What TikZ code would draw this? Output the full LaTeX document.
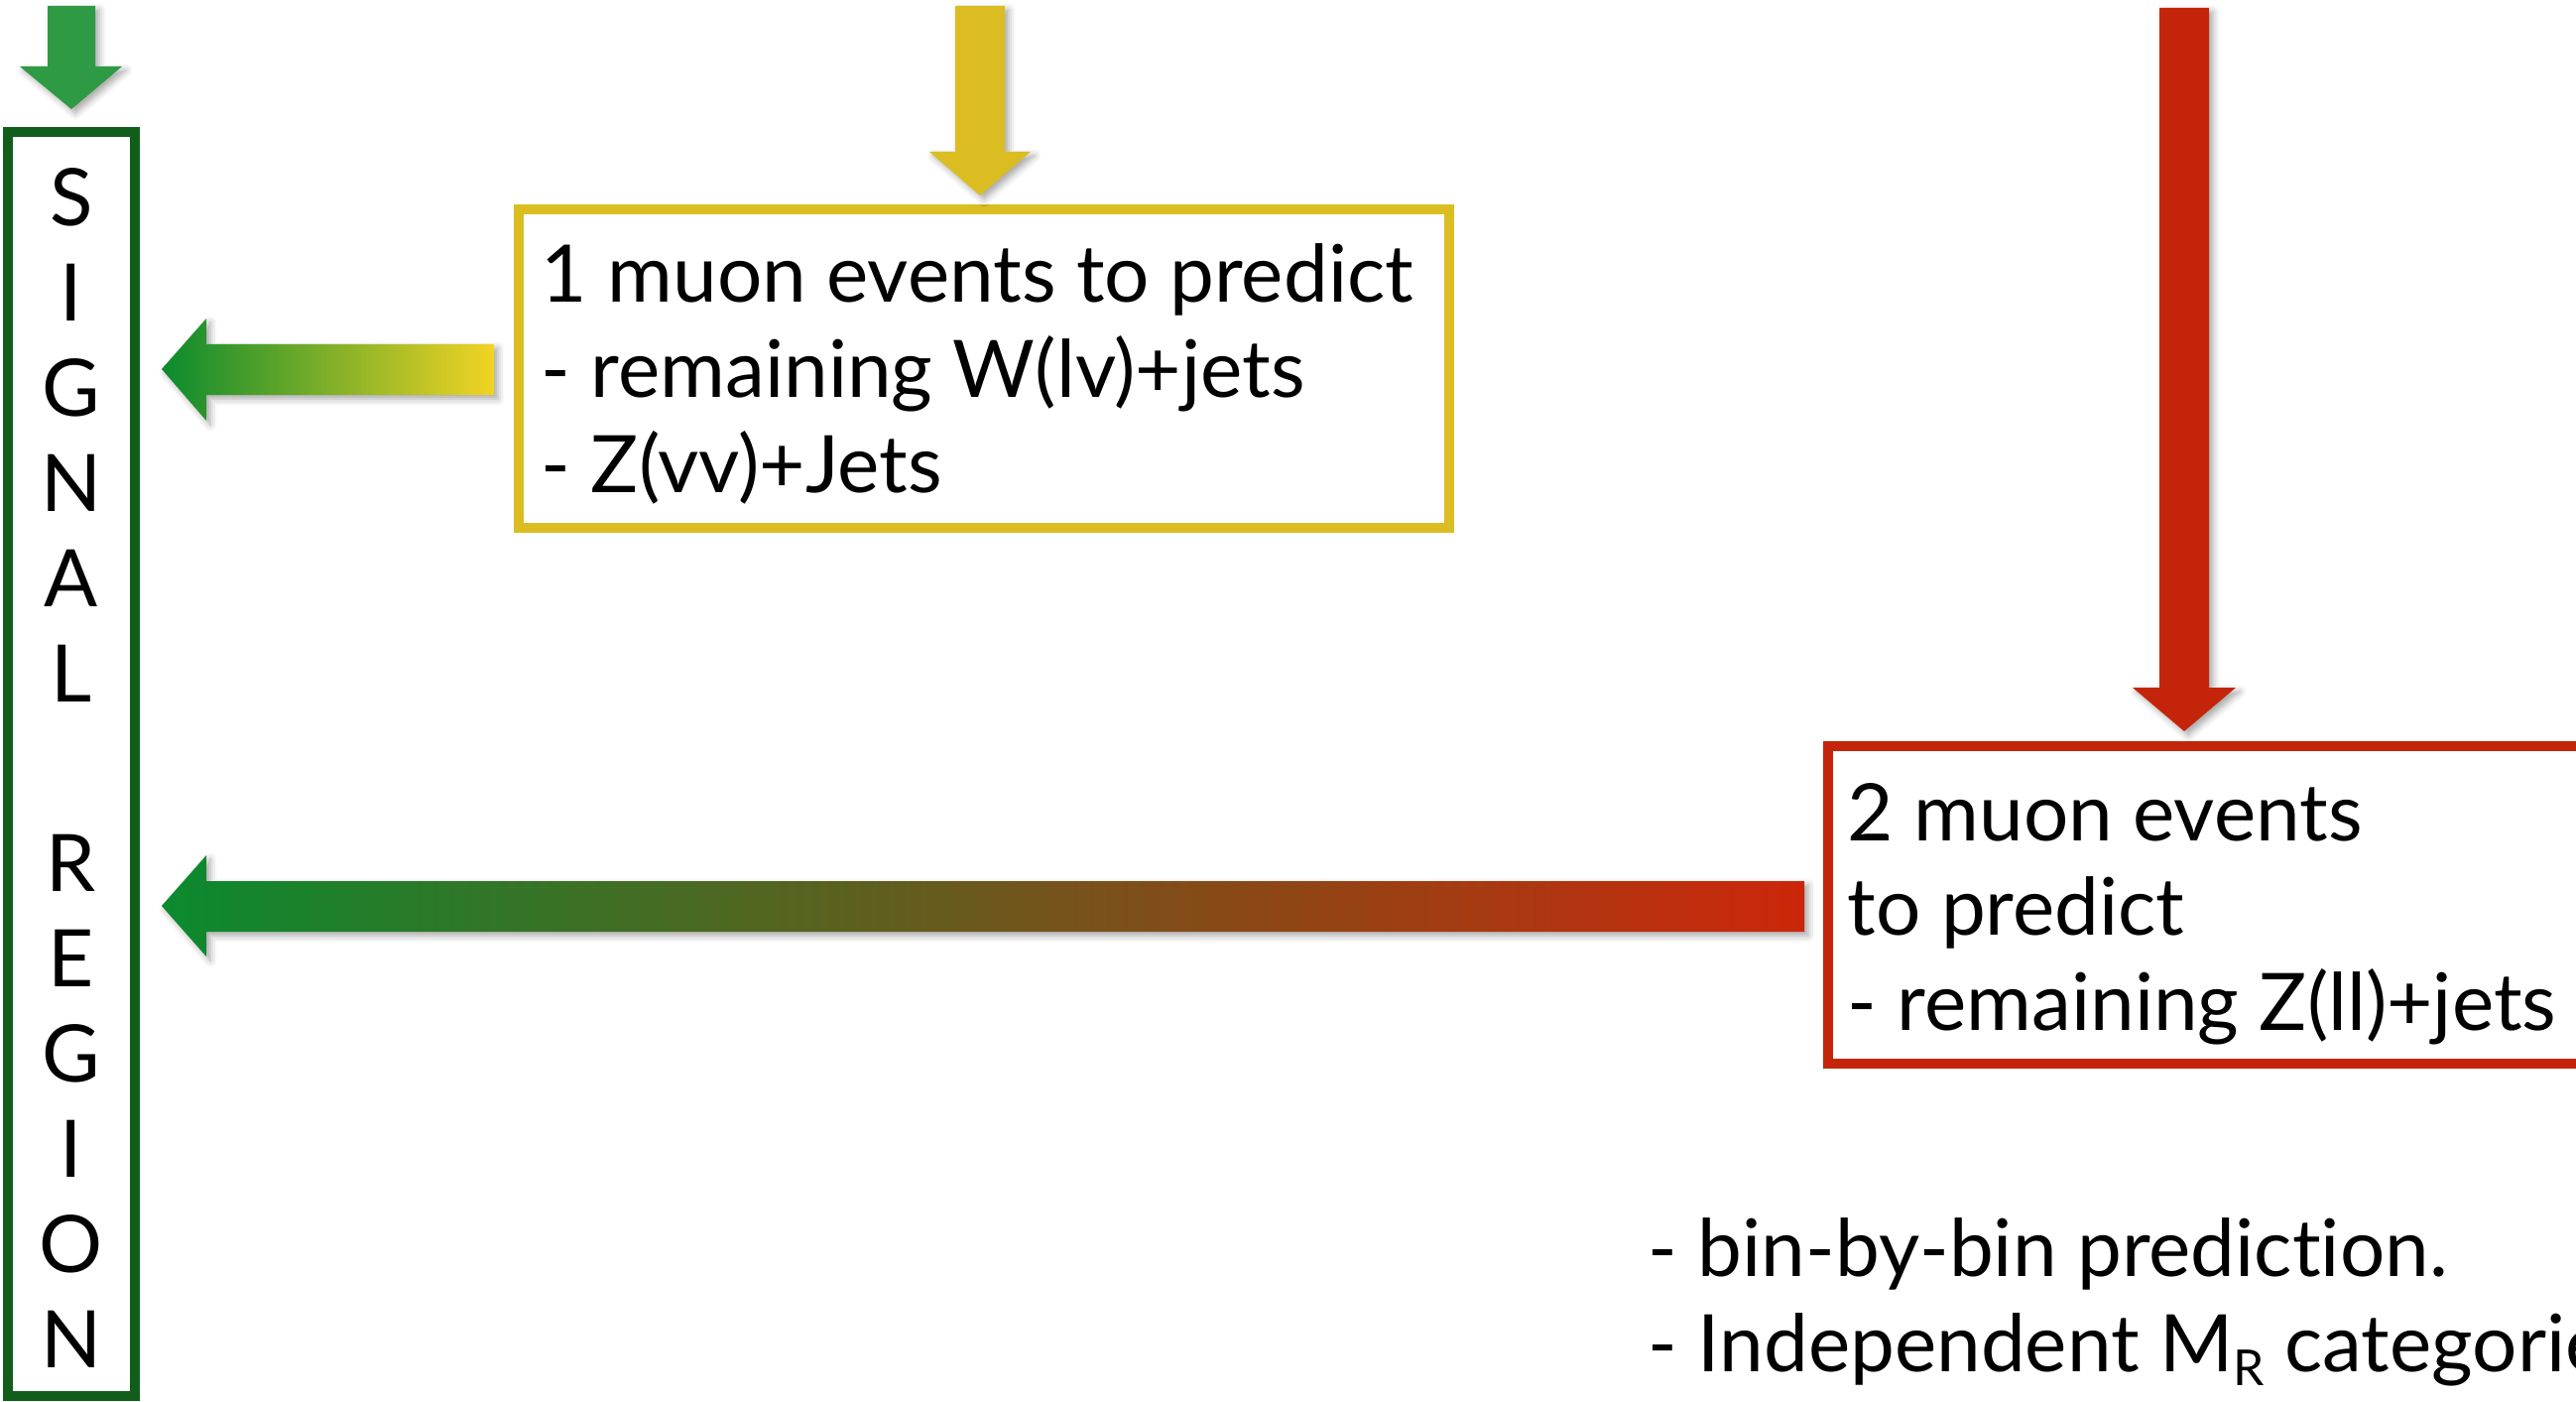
\documentclass[tikz,border=0pt]{standalone}
\usepackage{fontspec}
\setmainfont{Lato}[Ligatures=NoCommon]
\usetikzlibrary{shadows.blur}
\definecolor{sigGreen}{RGB}{16,94,26}
\definecolor{arrGreen}{RGB}{46,154,68}
\definecolor{gradGreen}{RGB}{11,138,46}
\definecolor{ctlYellow}{RGB}{219,189,34}
\definecolor{gradYellow}{RGB}{242,212,36}
\definecolor{ctlRed}{RGB}{196,37,10}
\definecolor{gradRed}{RGB}{204,38,10}
\begin{document}
\begin{tikzpicture}[x=0.3pt,y=-0.3pt,
  txt/.style={anchor=base west, inner sep=0pt, font=\fontsize{24}{28.8}\selectfont},
  letter/.style={inner sep=0pt, font=\fontsize{24}{28.8}\selectfont},
  boxline/.style={line width=3pt},
  shadowed/.style={blur shadow={shadow xshift=1.2pt, shadow yshift=-1.2pt,
      shadow blur radius=2pt, shadow opacity=35}}]
\useasboundingbox (0,0) rectangle (2597,1413);
\clip (0,0) rectangle (2597,1413);

% signal region column
\draw[sigGreen, boxline] (8,133) rectangle (136,1407);
\foreach \k/\ch in {0/S,1/I,2/G,3/N,4/A,5/L,7/R,8/E,9/G,10/I,11/O,12/N}
  \node[letter, name=sr\k] at (72,{199+95.9*\k}) {\ch};

% control region boxes
\draw[ctlYellow, boxline] (523,211) rectangle (1461,532);
\draw[ctlRed, boxline] (1843,752) rectangle (2640,1072);

% incoming block arrows
\fill[arrGreen, shadowed] (48,6) -- (96,6) -- (96,67) -- (123,67) -- (72,110)
  -- (20,67) -- (48,67) -- cycle;
\fill[ctlYellow, shadowed] (963,6) -- (1013,6) -- (1013,153) -- (1039,153)
  -- (988,197) -- (937,153) -- (963,153) -- cycle;
\fill[ctlRed, shadowed] (2177,8) -- (2227,8) -- (2227,693) -- (2254,693)
  -- (2202,737) -- (2150,693) -- (2177,693) -- cycle;

% transfer arrows into the signal region
\shade[left color=gradGreen, right color=gradYellow, shadowed]
  (498,347) -- (208,347) -- (208,321) -- (163,372) -- (208,424)
  -- (208,398) -- (498,398) -- cycle;
\shade[left color=gradGreen, right color=gradRed, shadowed]
  (1819,888) -- (208,888) -- (208,862) -- (163,913) -- (208,964)
  -- (208,939) -- (1819,939) -- cycle;

% one-muon box text
\node[txt] (y1) at (545,305) {1 muon events to predict};
\node[txt] (y2) at (545,401) {- remaining W(lv)+jets};
\node[txt] (y3) at (545,497) {- Z(vv)+Jets};

% two-muon box text
\node[txt] (r1) at (1862,847) {2 muon events};
\node[txt] (r2) at (1862,942) {to predict};
\node[txt] (r3) at (1862,1038) {- remaining Z(ll)+jets};

% notes
\node[txt] (n1) at (1661,1286) {- bin-by-bin prediction.};
\node[txt] (n2) at (1661,1382) {- Independent M\raisebox{-0.18em}{\fontsize{15}{18}\selectfont R} categories};
\end{tikzpicture}
\end{document}
